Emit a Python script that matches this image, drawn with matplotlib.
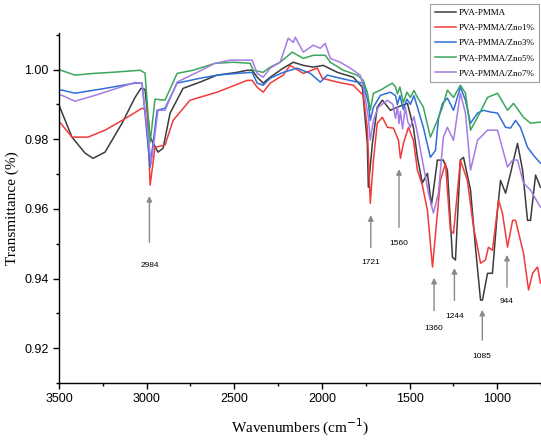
import matplotlib
matplotlib.use("Agg")
import matplotlib.pyplot as plt
from matplotlib.ticker import MultipleLocator

# ---- data (wavenumber cm-1, transmittance) ----
pva_wn = [3500, 3426, 3351, 3306, 3237, 3140, 3066, 3032, 3009, 2980, 2935, 2906, 2866, 2792,
          2695, 2598, 2483, 2426, 2398, 2369, 2335, 2295, 2221, 2163, 2106, 2049, 1992, 1912,
          1821, 1769, 1741, 1735, 1712, 1684, 1655, 1609, 1569, 1512, 1478, 1455, 1427, 1398,
          1375, 1341, 1307, 1284, 1255, 1238, 1227, 1210, 1192, 1152, 1124, 1095, 1084, 1055,
          1027, 998, 981, 952, 924, 884, 855, 827, 810, 781, 753]
pva_t = [0.9898, 0.9806, 0.9760, 0.9745, 0.9763, 0.9846, 0.9920, 0.9946, 0.9943, 0.9806, 0.9763,
         0.9774, 0.9875, 0.9946, 0.9964, 0.9984, 0.9992, 0.9998, 0.9998, 0.9978, 0.9961, 0.9978,
         1.0004, 1.0021, 1.0012, 1.0007, 1.0012, 0.9992, 0.9978, 0.9949, 0.9788, 0.9662, 0.9788,
         0.9892, 0.9912, 0.9883, 0.9892, 0.9903, 0.9834, 0.9748, 0.9674, 0.9702, 0.9611, 0.9740,
         0.9740, 0.9711, 0.9461, 0.9453, 0.9567, 0.9740, 0.9748, 0.9654, 0.9490, 0.9338, 0.9338,
         0.9415, 0.9415, 0.9596, 0.9682, 0.9645, 0.9702, 0.9788, 0.9711, 0.9567, 0.9567, 0.9697,
         0.9662]

zno1_wn = [3494, 3426, 3334, 3237, 3140, 3026, 2997, 2980, 2952, 2895, 2849, 2752, 2598, 2426,
           2398, 2369, 2335, 2295, 2221, 2181, 2106, 2026, 1998, 1912, 1821, 1764, 1741, 1724,
           1706, 1684, 1655, 1626, 1592, 1563, 1552, 1535, 1506, 1478, 1455, 1427, 1398, 1369,
           1324, 1295, 1267, 1249, 1210, 1170, 1135, 1112, 1095, 1067, 1050, 1027, 992, 970, 941,
           912, 895, 850, 821, 798, 770, 753]
zno1_t = [0.9848, 0.9806, 0.9806, 0.9826, 0.9854, 0.9889, 0.9883, 0.9668, 0.9777, 0.9783, 0.9854,
          0.9912, 0.9935, 0.9969, 0.9969, 0.9949, 0.9935, 0.9961, 0.9984, 1.0012, 0.9989, 1.0004,
          0.9975, 0.9964, 0.9955, 0.9926, 0.9834, 0.9616, 0.9740, 0.9846, 0.9863, 0.9834, 0.9832,
          0.9797, 0.9745, 0.9788, 0.9834, 0.9797, 0.9711, 0.9668, 0.9596, 0.9433, 0.9682, 0.9731,
          0.9539, 0.9530, 0.9740, 0.9682, 0.9547, 0.9490, 0.9444, 0.9453, 0.9490, 0.9481, 0.9625,
          0.9588, 0.9490, 0.9567, 0.9567, 0.9473, 0.9367, 0.9415, 0.9433, 0.9387]

zno3_wn = [3500, 3483, 3409, 3237, 3066, 3026, 2980, 2940, 2895, 2826, 2695, 2598, 2483, 2398,
           2369, 2335, 2295, 2221, 2141, 2066, 2009, 1969, 1895, 1798, 1764, 1735, 1724, 1706,
           1666, 1609, 1580, 1569, 1555, 1535, 1515, 1495, 1475, 1455, 1421, 1381, 1352, 1335,
           1312, 1284, 1249, 1210, 1181, 1152, 1112, 1078, 1038, 998, 952, 924, 895, 867, 827,
           793, 753]
zno3_t = [0.9941, 0.9941, 0.9932, 0.9946, 0.9961, 0.9961, 0.9720, 0.9883, 0.9889, 0.9961, 0.9975,
          0.9984, 0.9989, 0.9992, 0.9961, 0.9955, 0.9975, 0.9992, 1.0004, 0.9989, 0.9964, 0.9984,
          0.9975, 0.9964, 0.9961, 0.9903, 0.9854, 0.9892, 0.9926, 0.9935, 0.9925, 0.9900, 0.9925,
          0.9885, 0.9915, 0.9900, 0.9925, 0.9892, 0.9834, 0.9748, 0.9768, 0.9860, 0.9903, 0.9918,
          0.9883, 0.9949, 0.9912, 0.9846, 0.9875, 0.9883, 0.9878, 0.9875, 0.9834, 0.9832, 0.9854,
          0.9834, 0.9777, 0.9754, 0.9731]

zno5_wn = [3500, 3409, 3300, 3200, 3037, 3009, 2980, 2952, 2895, 2826, 2735, 2609, 2506, 2409,
           2392, 2335, 2295, 2238, 2169, 2106, 2049, 1981, 1952, 1878, 1798, 1764, 1741, 1724,
           1706, 1666, 1598, 1580, 1569, 1555, 1535, 1515, 1495, 1475, 1455, 1421, 1381, 1341,
           1312, 1284, 1249, 1210, 1181, 1152, 1112, 1055, 998, 941, 907, 850, 810, 753]
zno5_t = [1.0000, 0.9984, 0.9989, 0.9992, 0.9998, 0.9990, 0.9790, 0.9915, 0.9912, 0.9989, 0.9998,
          1.0018, 1.0021, 1.0018, 0.9998, 0.9992, 1.0007, 1.0021, 1.0050, 1.0032, 1.0041, 1.0041,
          1.0021, 0.9998, 0.9984, 0.9969, 0.9935, 0.9883, 0.9932, 0.9941, 0.9961, 0.9950, 0.9930,
          0.9950, 0.9905, 0.9935, 0.9920, 0.9940, 0.9920, 0.9892, 0.9806, 0.9854, 0.9892, 0.9941,
          0.9920, 0.9955, 0.9932, 0.9826, 0.9863, 0.9920, 0.9932, 0.9883, 0.9903, 0.9863, 0.9846,
          0.9849]

zno7_wn = [3500, 3483, 3409, 3294, 3066, 3026, 2974, 2935, 2895, 2826, 2712, 2609, 2523, 2398,
           2369, 2335, 2295, 2238, 2192, 2163, 2152, 2106, 2049, 2009, 1981, 1952, 1895, 1838,
           1781, 1764, 1735, 1724, 1706, 1678, 1626, 1595, 1580, 1569, 1560, 1552, 1540, 1524,
           1510, 1495, 1475, 1455, 1427, 1392, 1364, 1335, 1307, 1284, 1249, 1210, 1181, 1152,
           1112, 1055, 998, 941, 912, 884, 850, 810, 753]
zno7_t = [0.9926, 0.9926, 0.9909, 0.9926, 0.9963, 0.9960, 0.9730, 0.9883, 0.9883, 0.9964, 0.9992,
          1.0018, 1.0027, 1.0027, 0.9989, 0.9978, 1.0004, 1.0021, 1.0090, 1.0078, 1.0093, 1.0050,
          1.0070, 1.0061, 1.0075, 1.0032, 1.0021, 1.0004, 0.9984, 0.9949, 0.9863, 0.9797, 0.9854,
          0.9892, 0.9912, 0.9900, 0.9860, 0.9895, 0.9845, 0.9880, 0.9830, 0.9892, 0.9850, 0.9834,
          0.9865, 0.9817, 0.9740, 0.9645, 0.9588, 0.9645, 0.9806, 0.9834, 0.9797, 0.9932, 0.9875,
          0.9711, 0.9797, 0.9826, 0.9826, 0.9720, 0.9740, 0.9740, 0.9674, 0.9654, 0.9605]

series_names = ["PVA-PMMA", "PVA-PMMA/Zno1%", "PVA-PMMA/Zno3%", "PVA-PMMA/Zno5%", "PVA-PMMA/Zno7%"]
series_colors = ["#3c3c3c", "#f23a3a", "#2f6fd8", "#3aa65c", "#a57be6"]

peak_labels = ["2984", "1721", "1560", "1360", "1244", "1085", "944"]
peak_wn = [2984, 1721, 1560, 1360, 1244, 1085, 944]
peak_tip = [0.9645, 0.9590, 0.9722, 0.9410, 0.9438, 0.9318, 0.9476]
peak_tail = [0.9496, 0.9481, 0.9539, 0.9300, 0.9329, 0.9215, 0.9367]
peak_text = [0.9447, 0.9456, 0.9510, 0.9266, 0.9300, 0.9186, 0.9344]

# ---- figure ----
fig = plt.figure(figsize=(5.41, 4.44), dpi=100)
ax = fig.add_axes([0.109, 0.1374, 0.891, 0.7883])

all_wn = [pva_wn, zno1_wn, zno3_wn, zno5_wn, zno7_wn]
all_t = [pva_t, zno1_t, zno3_t, zno5_t, zno7_t]
handles = []
for wn, t, name, c in zip(all_wn, all_t, series_names, series_colors):
    h, = ax.plot(wn, t, color=c, lw=1.1, label=name)
    handles.append(h)

for lab, w, tip, tail, ty in zip(peak_labels, peak_wn, peak_tip, peak_tail, peak_text):
    ax.annotate("", xy=(w, tip), xytext=(w, tail),
                arrowprops=dict(arrowstyle="-|>", color="#8a8a8a", lw=1.0, mutation_scale=8))
    ax.text(w, ty, lab, ha="center", va="top", fontsize=6, family="Liberation Sans")

ax.set_xlim(3500, 750)
ax.set_ylim(0.910, 1.0105)
ax.xaxis.set_major_locator(MultipleLocator(500))
ax.xaxis.set_minor_locator(MultipleLocator(250))
ax.yaxis.set_major_locator(MultipleLocator(0.02))
ax.yaxis.set_minor_locator(MultipleLocator(0.01))
ax.yaxis.set_major_formatter(plt.FuncFormatter(lambda v, p: f"{v:.2f}"))
for s in ["top", "right"]:
    ax.spines[s].set_visible(False)
for s in ["left", "bottom"]:
    ax.spines[s].set_linewidth(1.0)
ax.tick_params(axis="both", which="major", direction="out", length=4, width=1, labelsize=9)
ax.tick_params(axis="both", which="minor", direction="out", length=2.5, width=1)
for lbl in ax.get_xticklabels() + ax.get_yticklabels():
    lbl.set_family("Liberation Sans")

ax.set_xlabel("Wavenumbers (cm$^{-1}$)", family="Liberation Serif", fontsize=11, labelpad=8)
ax.set_ylabel("Transmittance (%)", family="Liberation Serif", fontsize=11, labelpad=4)

leg = fig.legend(handles=handles, loc="upper left", bbox_to_anchor=(0.795, 0.99),
                 prop={"family": "Liberation Serif", "size": 6.5}, frameon=True, fancybox=False,
                 edgecolor="#888888", handlelength=2.4, labelspacing=0.75, borderpad=0.5,
                 handletextpad=0.3, borderaxespad=0)
leg.get_frame().set_linewidth(0.8)

fig.savefig("out.png", dpi=100)
